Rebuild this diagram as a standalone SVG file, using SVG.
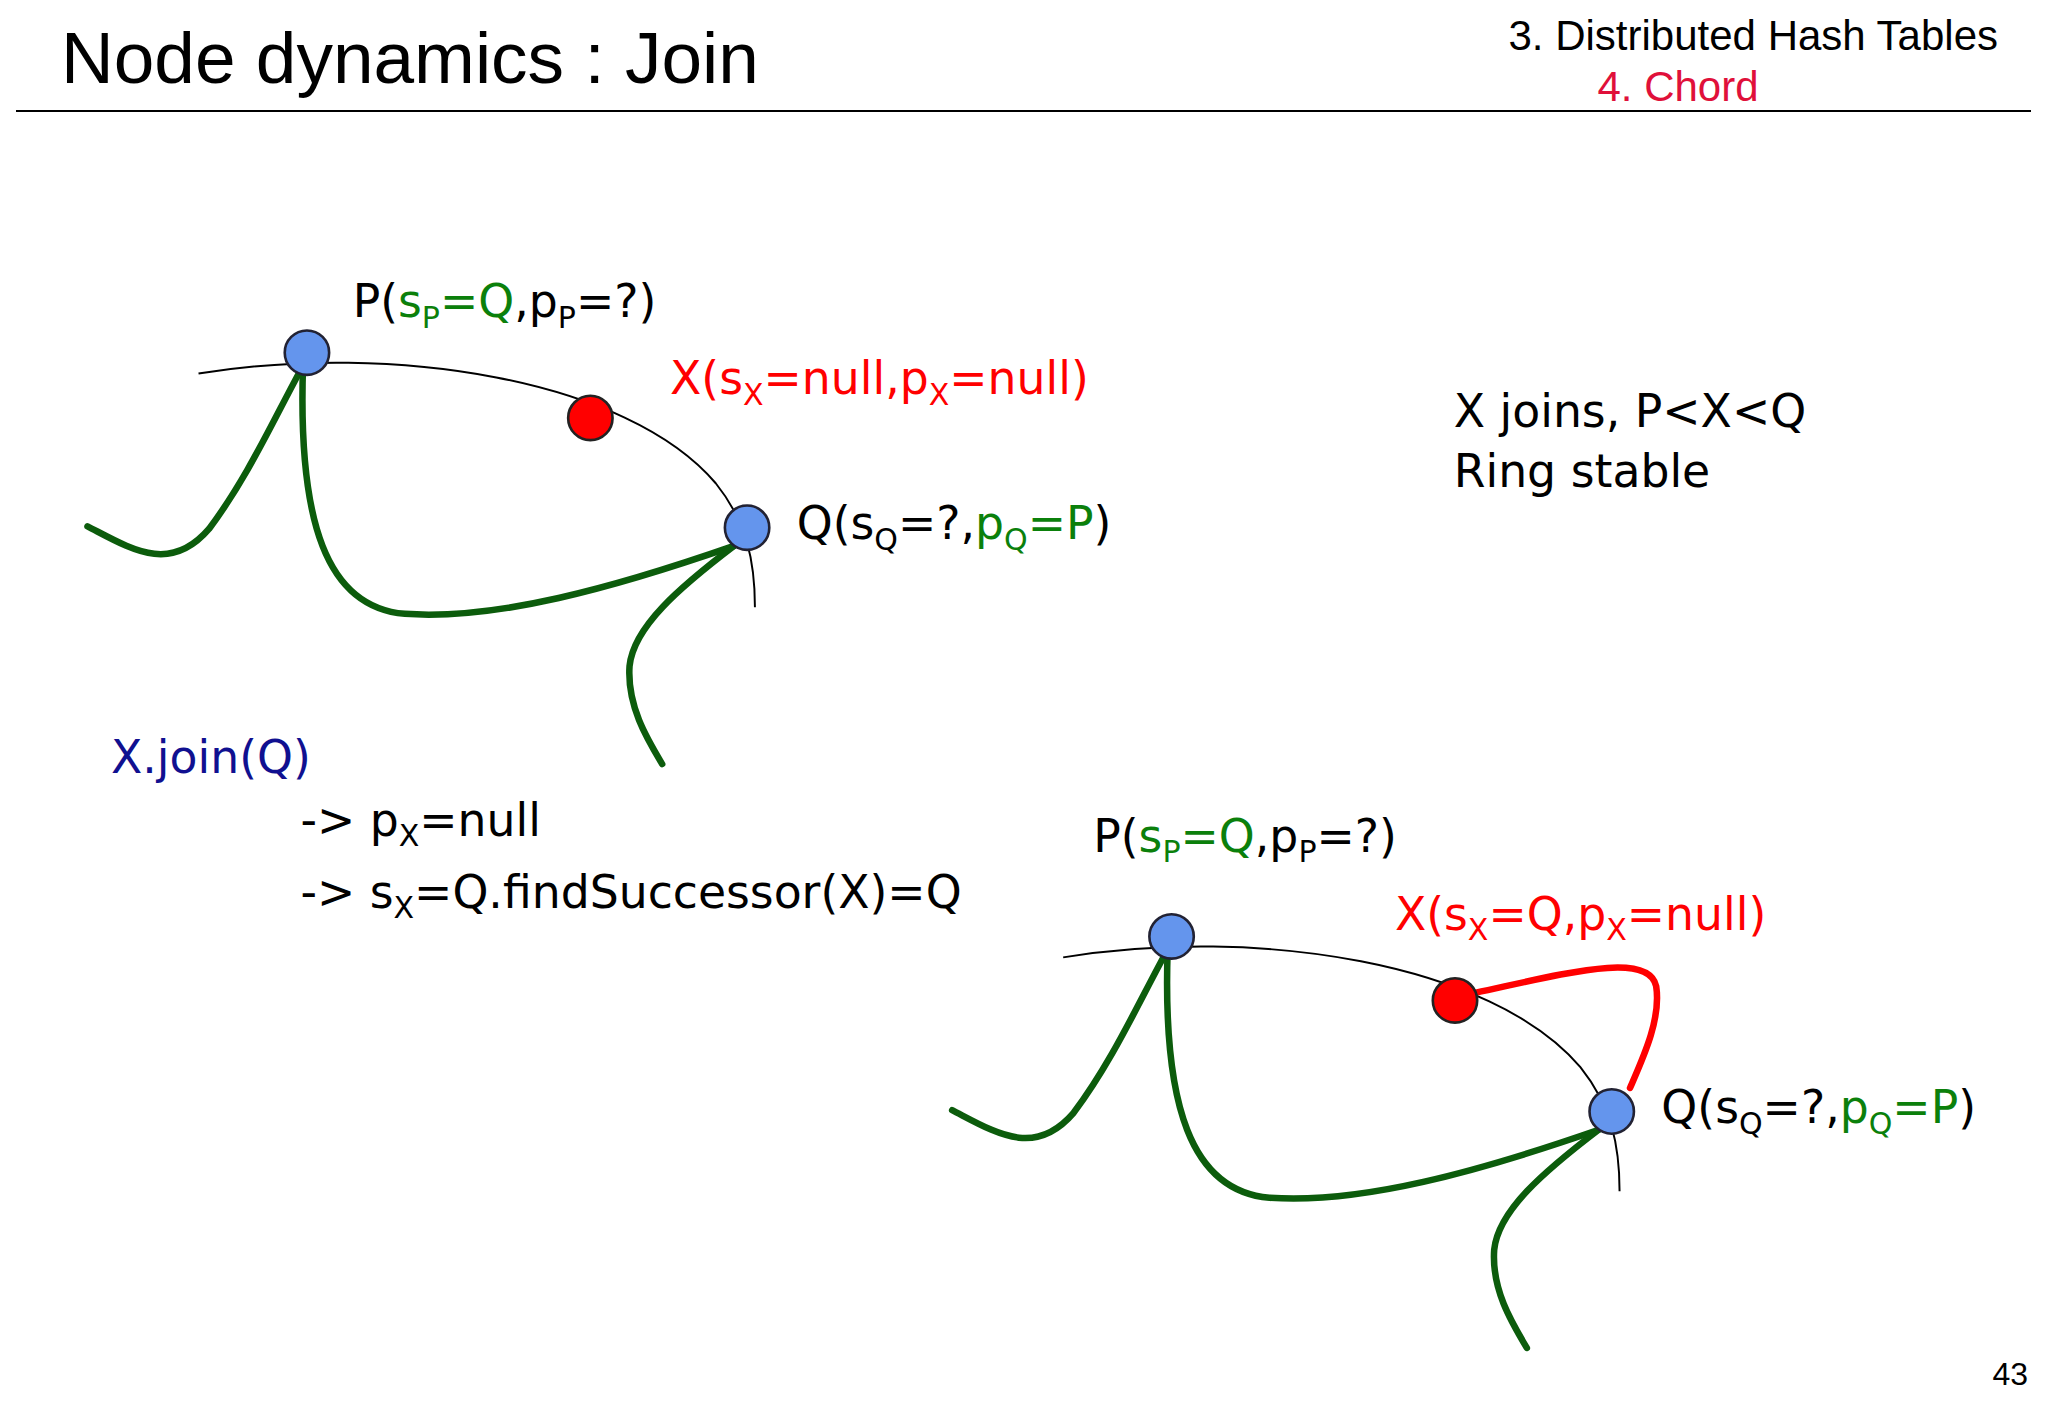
<svg xmlns="http://www.w3.org/2000/svg" width="2048" height="1418" viewBox="0 0 2048 1418">
<style>
.t{font-family:"DejaVu Sans","Noto Sans",sans-serif;font-size:35px;fill:#000}
.g{fill:#0b800b}.r{fill:#ff0000}
.sub{font-size:23px}
.ring{fill:none;stroke:#000;stroke-width:1.5}
.gc{fill:none;stroke:#0c5c0c;stroke-width:5;stroke-linecap:round}
.bn{fill:#6495ed;stroke:#223;stroke-width:2}
.rn{fill:#ff0000;stroke:#222;stroke-width:2}
</style>
<rect width="2048" height="1418" fill="#fff"/>
<text x="61" y="83" font-family="Liberation Sans,Arial,sans-serif" font-size="73">Node dynamics : Join</text>
<text x="1998" y="50" text-anchor="end" font-family="Liberation Sans,Arial,sans-serif" font-size="42">3. Distributed Hash Tables</text>
<text x="1678" y="101" text-anchor="middle" font-family="Liberation Sans,Arial,sans-serif" font-size="42" fill="#e0103a">4. Chord</text>
<line x1="16" y1="111" x2="2031" y2="111" stroke="#000" stroke-width="2"/>
<text x="2028" y="1385" text-anchor="end" font-family="Liberation Sans,Arial,sans-serif" font-size="32">43</text>
<g transform="scale(1.3061)">
<g id="diagram1">
<g id="connectors1">
<path class="ring" d="M152,286 C300,262 480,290 548,370 C572,400 578,430 578,465"/>
<path class="gc" d="M67,403 C100,420 130,440 160,405 C190,365 210,320 232,280"/>
<path class="gc" d="M232,280 C228,400 250,465 310,470 C380,475 470,450 562,418"/>
<path class="gc" d="M562,418 C520,450 485,480 482,510 C480,540 495,565 507,585"/>
</g>
<g id="P1"><circle class="bn" cx="235" cy="270" r="17"/></g>
<g id="X1"><circle class="rn" cx="452" cy="320" r="17"/></g>
<g id="Q1"><circle class="bn" cx="572" cy="404" r="17"/></g>
</g>
<g id="diagram2">
<g id="connectors2">
<g transform="translate(662,447)">
<path class="ring" d="M152,286 C300,262 480,290 548,370 C572,400 578,430 578,465"/>
<path class="gc" d="M67,403 C100,420 130,440 160,405 C190,365 210,320 232,280"/>
<path class="gc" d="M232,280 C228,400 250,465 310,470 C380,475 470,450 562,418"/>
<path class="gc" d="M562,418 C520,450 485,480 482,510 C480,540 495,565 507,585"/>
</g>
<path d="M1130,760 C1200,745 1262,728 1268,755 C1272,780 1258,810 1248,833" fill="none" stroke="#ff0000" stroke-width="5" stroke-linecap="round"/>
</g>
<g id="P2"><circle class="bn" cx="897" cy="717" r="17"/></g>
<g id="X2"><circle class="rn" cx="1114" cy="766" r="17"/></g>
<g id="Q2"><circle class="bn" cx="1234" cy="851" r="17"/></g>
</g>
<g id="labels">
<text class="t" x="270" y="243">P(<tspan class="g">s<tspan class="sub" dy="8">P</tspan><tspan dy="-8">=Q</tspan></tspan>,p<tspan class="sub" dy="8">P</tspan><tspan dy="-8">=?)</tspan></text>
<text class="t r" x="513" y="302">X(s<tspan class="sub" dy="8">X</tspan><tspan dy="-8">=null,p</tspan><tspan class="sub" dy="8">X</tspan><tspan dy="-8">=null)</tspan></text>
<text class="t" x="610" y="413">Q(s<tspan class="sub" dy="8">Q</tspan><tspan dy="-8">=?,</tspan><tspan class="g">p<tspan class="sub" dy="8">Q</tspan><tspan dy="-8">=P</tspan></tspan>)</text>
<text class="t" x="1113" y="327">X joins, P&lt;X&lt;Q</text>
<text class="t" x="1113" y="373">Ring stable</text>
<text class="t" x="85" y="592" style="fill:#101090">X.join(Q)</text>
<text class="t" x="230" y="640">-&gt; p<tspan class="sub" dy="8">X</tspan><tspan dy="-8">=null</tspan></text>
<text class="t" x="230" y="695">-&gt; s<tspan class="sub" dy="8">X</tspan><tspan dy="-8">=Q.findSuccessor(X)=Q</tspan></text>
<text class="t" x="837" y="652">P(<tspan class="g">s<tspan class="sub" dy="8">P</tspan><tspan dy="-8">=Q</tspan></tspan>,p<tspan class="sub" dy="8">P</tspan><tspan dy="-8">=?)</tspan></text>
<text class="t r" x="1068" y="712">X(s<tspan class="sub" dy="8">X</tspan><tspan dy="-8">=Q,p</tspan><tspan class="sub" dy="8">X</tspan><tspan dy="-8">=null)</tspan></text>
<text class="t" x="1272" y="860">Q(s<tspan class="sub" dy="8">Q</tspan><tspan dy="-8">=?,</tspan><tspan class="g">p<tspan class="sub" dy="8">Q</tspan><tspan dy="-8">=P</tspan></tspan>)</text>
</g>
</g>
</svg>
